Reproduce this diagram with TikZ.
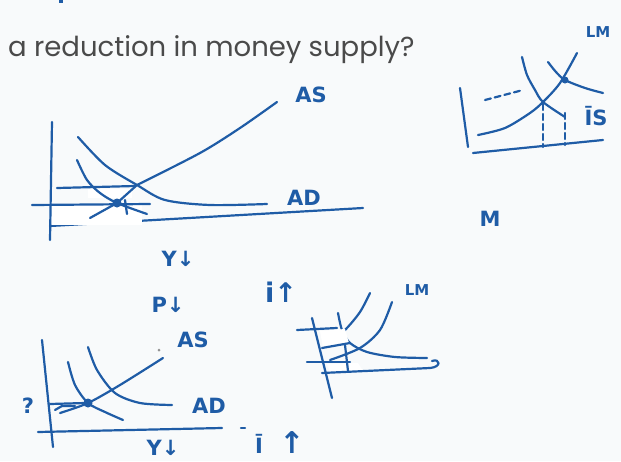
\documentclass[tikz,border=0pt]{standalone}
\usepackage{fontspec}
\setmainfont{Poppins}
\newfontfamily\mano{DejaVu Sans}
\usepackage{tikz}

\begin{document}
\begin{tikzpicture}[x=1pt,y=-1pt,
  inchiostro/.style={draw=colInk, line width=2.2pt, line cap=round, line join=round},
  tratteggio/.style={inchiostro, dash pattern=on 6pt off 4pt},
  gomma/.style={fill=white, draw=none},
  scritta/.style={text=colInk, font=\mano\bfseries\fontsize{21}{21}\selectfont, inner sep=0pt}]

% Colori
\definecolor{colInk}{HTML}{1F5CA6}
\definecolor{colTitle}{HTML}{4A4A4A}
\definecolor{colBg}{HTML}{F8FAFB}

% Sfondo
\fill[colBg] (0,0) rectangle (621,461);
\useasboundingbox (0,0) rectangle (621,461);
\fill[colInk] (59,0) rectangle (63,3);

% Titolo
\node[anchor=base west, inner sep=0pt, text=colTitle,
  font=\fontsize{27.5}{27.5}\selectfont] (titolo) at (8,56) {a reduction in money supply?};

% Grafico AS-AD in alto
\draw[inchiostro] (52,122) -- (50,240);
\draw[inchiostro] (50,226) -- (363,208);
\draw[inchiostro] plot[smooth] coordinates {(78,137) (105,165) (137,185) (165,200) (210,205) (267,204)};
\draw[inchiostro] plot[smooth] coordinates {(137,185) (200,153) (240,128) (277,102)};
\fill[gomma] (52,205) rectangle (142,225);
\fill[gomma] (88,189) rectangle (132,198);
\draw[inchiostro] (57,188) -- (135,186);
\draw[inchiostro] (32,205) -- (150,204);
\draw[inchiostro] plot[smooth] coordinates {(77,160) (87,180) (100,193) (117,203) (147,214)};
\draw[inchiostro] (90,218) -- (117,203) -- (137,185);
\draw[inchiostro] (125,200) -- (127,214);
\fill[colInk] (117,203) circle (4.5);
\node[scritta] (asUno) at (311,95) {AS};
\node[scritta] (adUno) at (304,198) {AD};

% Grafico IS-LM in alto a destra
\draw[inchiostro] (460,88) -- (468,147);
\draw[inchiostro] (473,153) -- (603,140);
\draw[tratteggio] (485,100) -- (523,90);
\draw[inchiostro] plot[smooth] coordinates {(478,135) (505,128) (530,113) (543,102) (560,83) (577,53)};
\draw[inchiostro] plot[smooth] coordinates {(522,57) (527,75) (535,90) (543,102) (565,117)};
\draw[inchiostro] plot[smooth] coordinates {(548,62) (556,72) (565,80) (585,88) (603,93)};
\draw[tratteggio] (543,104) -- (543,147);
\draw[tratteggio] (565,113) -- (565,145);
\fill[colInk] (565,80) circle (3.5);
\node[scritta, font=\mano\bfseries\fontsize{15}{15}\selectfont] (lmUno) at (598,32) {LM};
\node[scritta] (isUno) at (596,116) {\=IS};
\node[scritta] (emme) at (490,219) {M};

% Frecce Y e P
\node[scritta] (yGiu) at (178,259) {Y↓};
\node[scritta] (pGiu) at (168,305) {P↓};
\node[scritta, font=\mano\bfseries\fontsize{27}{27}\selectfont] (iSu) at (281,292) {i↑};

% Grafico AS-AD in basso
\draw[inchiostro] (42,340) -- (53,447);
\draw[inchiostro] (38,432) -- (222,428);
\draw[inchiostro] plot[smooth] coordinates {(60,413) (88,403) (120,385) (163,358)};
\draw[inchiostro] plot[smooth] coordinates {(88,347) (97,370) (115,393) (140,403) (172,405)};
\draw[inchiostro] plot[smooth] coordinates {(68,362) (75,385) (88,403) (105,412) (123,420)};
\draw[inchiostro] (50,404) -- (85,403);
\draw[inchiostro] (55,410) -- (62,406) -- (75,406);
\fill[colInk] (88,403) circle (4.5);
\fill[colTitle!60] (159,350) circle (1.5);
\node[scritta] (asDue) at (193,340) {AS};
\node[scritta] (adDue) at (209,406) {AD};
\node[scritta] (punto) at (28,406) {?};
\node[scritta] (yBasso) at (163,448) {Y↓};
\draw[inchiostro] (241,428) -- (245,428);
\node[scritta] (iBar) at (259,444) {\=I};
\node[scritta, font=\mano\bfseries\fontsize{30}{30}\selectfont] (freccia) at (292,443) {↑};

% Grafico IS-LM in basso
\draw[inchiostro] (312,318) -- (332,398);
\draw[inchiostro] (297,330) -- (337,328);
\draw[inchiostro] (307,362) -- (350,362);
\draw[inchiostro] plot[smooth] coordinates {(327,345) (345,330) (360,312) (370,293)};
\draw[inchiostro] plot[smooth] coordinates {(330,360) (360,348) (380,330) (392,302)};
\draw[inchiostro] plot[smooth] coordinates {(338,313) (342,330) (350,343) (367,352) (395,357) (427,358)};
\fill[gomma] (320,331) -- (345,329) -- (349,343) -- (323,348) -- cycle;
\fill[gomma] (327,364) -- (358,363) -- (363,371) -- (330,373) -- cycle;
\draw[inchiostro] (322,373) -- (430,368) .. controls (442,367) and (440,358) .. (432,361);
\draw[inchiostro] (322,348) -- (350,343);
\draw[inchiostro] (345,345) -- (348,371);
\node[scritta, font=\mano\bfseries\fontsize{15}{15}\selectfont] (lmDue) at (417,290) {LM};

\end{tikzpicture}
\end{document}
